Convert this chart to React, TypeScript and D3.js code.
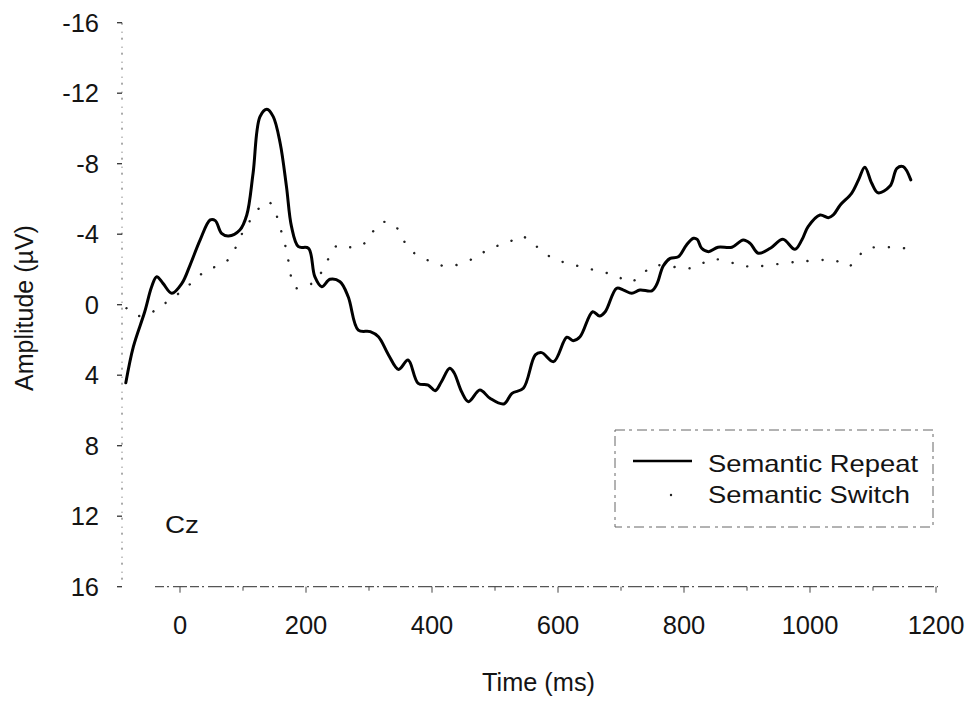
import React from "react";
import * as d3 from "d3";

// Time points (ms) and amplitudes (µV) for each condition
const repeatTimes = [-86, -74, -56, -45, -37, -27, -13, 3, 16, 32, 48, 56, 66, 77, 95, 106, 116, 127, 138, 148, 159, 169, 177, 188, 204, 214, 225, 238, 254, 267, 283, 302, 315, 331, 347, 362, 378, 394, 405, 415, 428, 435, 447, 458, 476, 492, 514, 527, 545, 564, 574, 593, 614, 624, 635, 655, 666, 675, 693, 704, 717, 730, 749, 757, 767, 778, 791, 804, 815, 821, 828, 839, 854, 876, 894, 905, 918, 937, 957, 976, 987, 997, 1016, 1029, 1037, 1048, 1066, 1077, 1087, 1098, 1108, 1127, 1138, 1148, 1160];
const repeatValues = [4.43, 2.38, 0.4, -1.02, -1.59, -1.21, -0.65, -1.21, -2.25, -3.68, -4.81, -4.77, -4.05, -3.9, -4.24, -5.09, -7.46, -10.67, -11.09, -10.67, -9.16, -6.7, -4.43, -3.29, -3.2, -1.59, -1.02, -1.44, -1.3, -0.45, 1.44, 1.53, 1.82, 2.85, 3.67, 3.14, 4.46, 4.56, 4.88, 4.37, 3.61, 3.86, 4.94, 5.5, 4.84, 5.31, 5.63, 5.03, 4.74, 2.85, 2.72, 3.23, 1.85, 2.04, 1.82, 0.4, 0.64, 0.4, -0.93, -0.83, -0.65, -0.83, -0.79, -1.17, -2.2, -2.63, -2.72, -3.39, -3.77, -3.71, -3.2, -3.01, -3.26, -3.26, -3.67, -3.48, -2.92, -3.2, -3.71, -3.14, -3.67, -4.43, -5.09, -4.94, -5.09, -5.66, -6.32, -7.08, -7.8, -6.89, -6.35, -6.73, -7.74, -7.83, -7.08];

const switchTimes = [-85, -66, -46, -27, 7, 40, 75, 106, 140, 164, 173, 183, 213, 237, 250, 270, 289, 304, 321, 341, 352, 366, 385, 405, 424, 464, 483, 503, 521, 541, 578, 595, 654, 692, 713, 732, 750, 810, 829, 848, 886, 905, 983, 1040, 1061, 1076, 1093, 1151];
const switchValues = [0.2, 0.64, 0.45, 0.0, -0.89, -1.9, -2.5, -4.5, -5.84, -3.77, -2.35, -0.96, -1.3, -2.69, -3.37, -3.26, -3.37, -4.05, -4.68, -4.5, -3.82, -3.1, -2.65, -2.38, -2.16, -2.59, -3.0, -3.33, -3.52, -3.9, -2.95, -2.58, -2.0, -1.65, -1.29, -1.63, -2.2, -2.07, -2.35, -2.58, -2.29, -2.16, -2.44, -2.5, -2.16, -2.72, -3.2, -3.2];

const yTicks = [-16, -12, -8, -4, 0, 4, 8, 12, 16];
const xTicks = [0, 200, 400, 600, 800, 1000, 1200];
const xMinorTicks = [0, 100, 200, 300, 400, 500, 600, 700, 800, 900, 1000, 1100, 1200];
const seriesNames = ["Semantic Repeat", "Semantic Switch"];

const W = 974;
const H = 702;
const FONT = "'Liberation Sans', Arial, Helvetica, sans-serif";

export default function App() {
  const x = d3.scaleLinear().domain([0, 1200]).range([180, 936]);
  const y = d3.scaleLinear().domain([-16, 16]).range([22.7, 586.7]);

  const repeat = repeatTimes.map((t, i) => [t, repeatValues[i]] as [number, number]);
  const sw = switchTimes.map((t, i) => [t, switchValues[i]] as [number, number]);

  const line = d3
    .line<[number, number]>()
    .x((d) => x(d[0]))
    .y((d) => y(d[1]))
    .curve(d3.curveCatmullRom.alpha(0.5));

  const axisX = 122;
  const axisY = y(16);
  const textColor = "#141414";
  const axisColor = "#555";

  return (
    <svg
      width={W}
      height={H}
      viewBox={`0 0 ${W} ${H}`}
      style={{ position: "absolute", left: 0, top: 0, background: "#fff", display: "block" }}
      fontFamily={FONT}
    >
      <rect x={0} y={0} width={W} height={H} fill="#fff" />

      {/* y axis */}
      <line
        x1={axisX}
        x2={axisX}
        y1={y(-16)}
        y2={y(16)}
        stroke={axisColor}
        strokeWidth={1}
        strokeDasharray="2 7 1 5"
      />
      {yTicks.map((v) => (
        <g key={`yt${v}`}>
          <line x1={axisX - 5} x2={axisX} y1={y(v)} y2={y(v)} stroke="#333" strokeWidth={1.3} />
          <text
            x={99}
            y={y(v)}
            textAnchor="end"
            dominantBaseline="central"
            fontSize={25.5}
            fill={textColor}
          >
            {v}
          </text>
        </g>
      ))}

      {/* x axis */}
      <line
        x1={155}
        x2={x(1200) + 2}
        y1={axisY}
        y2={axisY}
        stroke={axisColor}
        strokeWidth={1.2}
        strokeDasharray="9 3 2 4 14 3"
      />
      {xMinorTicks.map((t) => (
        <line
          key={`xm${t}`}
          x1={x(t)}
          x2={x(t)}
          y1={axisY}
          y2={axisY + (t % 200 === 0 ? 6 : 4)}
          stroke="#444"
          strokeWidth={1}
        />
      ))}
      {xTicks.map((t) => (
        <text
          key={`xt${t}`}
          x={x(t)}
          y={634}
          textAnchor="middle"
          fontSize={25.5}
          fill={textColor}
        >
          {t}
        </text>
      ))}

      {/* axis titles */}
      <text
        x={482}
        y={691}
        fontSize={25}
        fill={textColor}
        textLength={113}
        lengthAdjust="spacingAndGlyphs"
      >
        Time (ms)
      </text>
      <text
        transform={`translate(32.5, 308) rotate(-90)`}
        textAnchor="middle"
        fontSize={25}
        fill={textColor}
      >
        Amplitude (µV)
      </text>

      {/* electrode label */}
      <text
        x={165}
        y={533}
        fontSize={24}
        fill={textColor}
        textLength={34}
        lengthAdjust="spacingAndGlyphs"
      >
        Cz
      </text>

      {/* condition waveforms */}
      <path
        d={line(sw) ?? ""}
        fill="none"
        stroke="#222"
        strokeWidth={2.4}
        strokeLinecap="round"
        strokeDasharray="0.1 15"
      />
      <path
        d={line(repeat) ?? ""}
        fill="none"
        stroke="#000"
        strokeWidth={3}
        strokeLinejoin="round"
        strokeLinecap="round"
      />

      {/* legend */}
      <rect
        x={615}
        y={430}
        width={318}
        height={97}
        fill="none"
        stroke="#666"
        strokeWidth={1}
        strokeDasharray="10 4 3 5"
      />
      <line x1={633} x2={692} y1={461} y2={461} stroke="#000" strokeWidth={2.4} />
      <circle cx={671} cy={495} r={1.2} fill="#222" />
      <text
        x={708}
        y={472}
        fontSize={24}
        fill={textColor}
        textLength={210}
        lengthAdjust="spacingAndGlyphs"
      >
        {seriesNames[0]}
      </text>
      <text
        x={708}
        y={503}
        fontSize={24}
        fill={textColor}
        textLength={202}
        lengthAdjust="spacingAndGlyphs"
      >
        {seriesNames[1]}
      </text>
    </svg>
  );
}
